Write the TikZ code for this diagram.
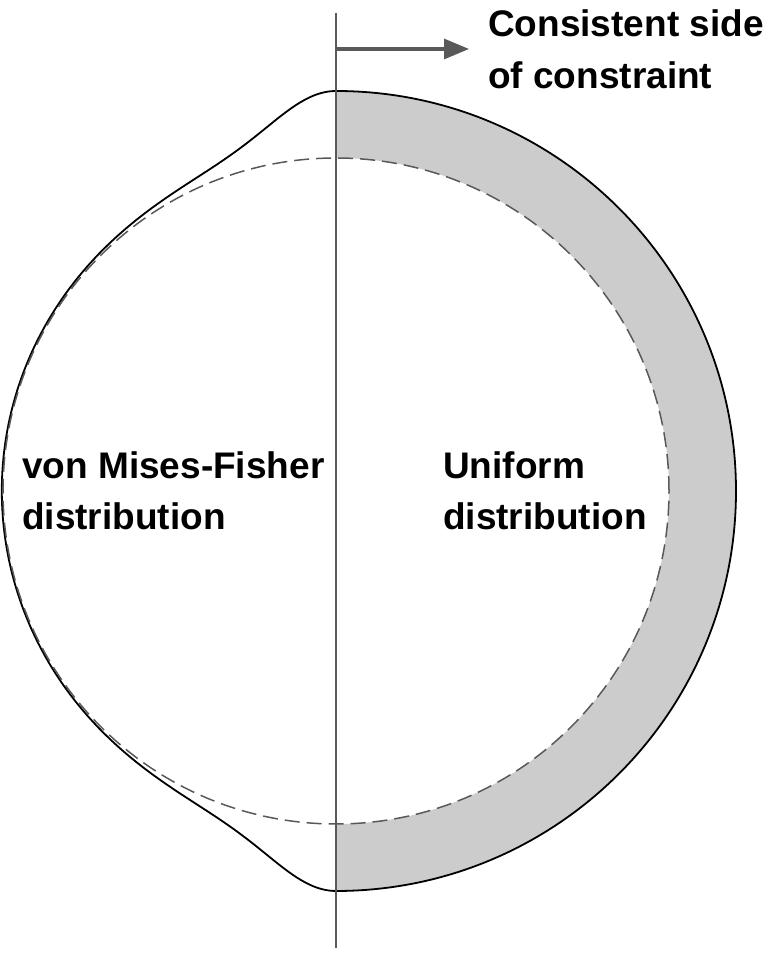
\documentclass[tikz,border=0pt]{standalone}
\usepackage{fontspec}
\setmainfont{Liberation Sans}
\usetikzlibrary{arrows.meta}
\begin{document}
\begin{tikzpicture}[x=1pt,y=1pt,
  lbl/.style={anchor=base west,inner sep=0pt,font=\fontsize{37}{52}\selectfont\bfseries},
  outline/.style={draw=black,line width=1.8pt},
  axis/.style={draw=black!65,line width=1.8pt},
  dashcirc/.style={draw=black!65,line width=1.5pt,dash pattern=on 15pt off 7pt}]
\useasboundingbox (0,0) rectangle (767,953);
% shaded band
\fill[black!20] (336,862) arc[start angle=90,end angle=-90,radius=400]
  -- (336,129) arc[start angle=-90,end angle=90,radius=333] -- cycle;
% outer right arc
\draw[outline] (336,862) arc[start angle=90,end angle=-90,radius=400];
% left vMF curve
\draw[outline] plot[domain=0:180,samples=241,smooth,variable=\t]
  ({336-(334+66/((1+(\t/18.24)^2)^2)+66/((1+((180-\t)/18.24)^2)^2))*sin(\t)},
   {462+(334+66/((1+(\t/18.24)^2)^2)+66/((1+((180-\t)/18.24)^2)^2))*cos(\t)});
% dashed circle
\draw[dashcirc] (336,462) circle[radius=333];
% constraint line
\coordinate (ltop) at (336,940);
\coordinate (lbot) at (336,5);
\draw[axis] (ltop) -- (lbot);
% arrow
\coordinate (astart) at (336,904);
\coordinate (aend) at (469,904);
\draw[draw=black!65,line width=3.2pt,-{Triangle[length=25pt,width=20pt]}] (astart) -- (aend);
% labels
\node[lbl] (c1) at (488,916) {Consistent side};
\node[lbl] (c2) at (488,864) {of constraint};
\node[lbl] (v1) at (22,474) {von Mises-Fisher};
\node[lbl] (v2) at (22,423) {distribution};
\node[lbl] (u1) at (443,474) {Uniform};
\node[lbl] (u2) at (443,423) {distribution};
\end{tikzpicture}
\end{document}
